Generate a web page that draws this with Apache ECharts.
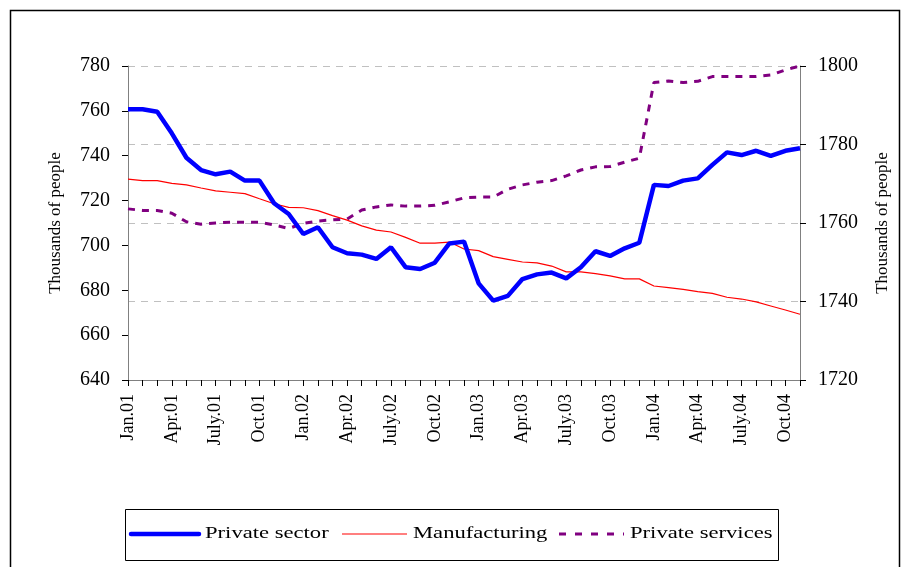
<!DOCTYPE html>
<html>
<head>
<meta charset="utf-8">
<script src="https://cdn.jsdelivr.net/npm/echarts@6/dist/echarts.min.js"></script>
<style>html,body{margin:0;padding:0;background:#fff;}#c{width:905px;height:567px;}</style>
</head>
<body>
<div id="c"></div>
<script>
const months = ['Jan.','Feb.','Mar.','Apr.','May.','June.','July.','Aug.','Sep.','Oct.','Nov.','Dec.'];
const categories = [];
['01','02','03','04'].forEach(y => months.forEach(m => categories.push(m + y)));
categories.length = 47; // Jan.01 .. Nov.04

const leftTicks = { min: 640, max: 780, interval: 20 };
const rightTicks = { min: 1720, max: 1800, interval: 20 };
const seriesNames = ['Private sector', 'Manufacturing', 'Private services'];

const privateSector = [
  760.7, 760.7, 759.6, 750.0, 739.1, 733.6, 731.7, 732.9, 728.9, 728.9, 718.8, 714.0,
  705.1, 708.1, 699.2, 696.5, 695.9, 694.0, 699.2, 690.3, 689.5, 692.3, 700.9, 701.7,
  683.1, 675.4, 677.5, 685.0, 687.1, 687.9, 685.3, 690.3, 697.4, 695.3, 698.7, 701.2,
  727.0, 726.5, 728.9, 729.9, 735.9, 741.5, 740.3, 742.2, 739.9, 742.2, 743.3
];
const manufacturing = [
  729.6, 728.9, 728.9, 727.7, 727.0, 725.6, 724.3, 723.7, 723.1, 720.8, 718.6, 717.0,
  716.8, 715.5, 713.3, 711.3, 708.7, 706.8, 706.0, 703.6, 701.0, 701.0, 701.5, 698.4,
  697.7, 695.0, 693.8, 692.6, 692.2, 690.8, 688.2, 688.2, 687.4, 686.4, 685.1, 685.1,
  681.9, 681.2, 680.4, 679.4, 678.6, 676.9, 676.1, 674.8, 673.0, 671.2, 669.3
];
const privateServices = [
  1763.6, 1763.2, 1763.2, 1762.5, 1760.3, 1759.7, 1760.0, 1760.2, 1760.2, 1760.2, 1759.5, 1758.6,
  1759.9, 1760.5, 1760.8, 1761.0, 1763.3, 1764.1, 1764.6, 1764.3, 1764.3, 1764.5, 1765.4, 1766.4,
  1766.6, 1766.6, 1768.6, 1769.7, 1770.4, 1770.8, 1772.0, 1773.5, 1774.3, 1774.4, 1775.5, 1776.5,
  1795.8, 1796.2, 1795.8, 1796.1, 1797.3, 1797.3, 1797.3, 1797.3, 1797.7, 1799.0, 1800.0
];

const FONT = '"Liberation Serif", "Times New Roman", serif';
const colors = ['#0000ff', '#ff0000', '#800080'];
const lineStyles = [
  { stroke: colors[0], lineWidth: 4.5, lineCap: 'round' },
  { stroke: colors[1], lineWidth: 1.2 },
  { stroke: colors[2], lineWidth: 3, lineDash: [7, 9] }
];

// manual legend (box + samples + text)
const legendX = [131, 342, 559];
const legendLen = [68, 65, 65];
const legendGraphic = [{
  type: 'rect', left: 125, top: 509, shape: { width: 653, height: 51 },
  style: { fill: '#fff', stroke: '#000', lineWidth: 1 }, silent: true
}];
seriesNames.forEach((n, i) => {
  legendGraphic.push({
    type: 'line', shape: { x1: legendX[i], y1: 534, x2: legendX[i] + legendLen[i], y2: 534 },
    style: lineStyles[i], silent: true, z: 10
  });
  legendGraphic.push({
    type: 'text', x: legendX[i] + legendLen[i] + 6, y: 534, scaleX: 1.33,
    style: { text: n, fontFamily: FONT, fontSize: 17, fill: '#000', verticalAlign: 'middle', align: 'left' },
    silent: true, z: 10
  });
});

const chart = echarts.init(document.getElementById('c'), null, { renderer: 'canvas' });
chart.setOption({
  animation: false,
  backgroundColor: '#fff',
  textStyle: { fontFamily: FONT, color: '#000' },
  graphic: [{
    type: 'rect', left: 8, top: 8, shape: { width: 889, height: 575 },
    style: { fill: 'none', stroke: '#000', lineWidth: 1.5 }, silent: true, z: -1
  }].concat(legendGraphic),
  grid: { left: 128, right: 105, top: 66, bottom: 187, containLabel: false },
  xAxis: {
    type: 'category', data: categories, boundaryGap: false,
    axisLine: { lineStyle: { color: '#808080', width: 1 } },
    axisTick: { interval: 0, length: 6, lineStyle: { color: '#000' } },
    axisLabel: { interval: 2, rotate: 90, margin: 14, fontFamily: FONT, fontSize: 18, color: '#000' },
    splitLine: { show: false }
  },
  yAxis: [{
    type: 'value', position: 'left', ...leftTicks,
    name: 'Thousands of people', nameLocation: 'middle', nameGap: 64, nameRotate: 90,
    nameTextStyle: { fontFamily: FONT, fontSize: 17, color: '#000' },
    axisLine: { show: true, lineStyle: { color: '#808080' } },
    axisTick: { show: true, inside: false, length: 6, lineStyle: { color: '#000' } },
    axisLabel: { margin: 18, fontFamily: FONT, fontSize: 20, color: '#000' },
    splitLine: { show: false }
  }, {
    type: 'value', position: 'right', ...rightTicks,
    name: 'Thousands of people', nameLocation: 'middle', nameGap: 74, nameRotate: 90,
    nameTextStyle: { fontFamily: FONT, fontSize: 17, color: '#000' },
    axisLine: { show: true, lineStyle: { color: '#808080' } },
    axisTick: { show: true, inside: false, length: 6, lineStyle: { color: '#000' } },
    axisLabel: { margin: 18, fontFamily: FONT, fontSize: 20, color: '#000', formatter: v => String(v) },
    splitLine: { show: true, lineStyle: { color: '#c0c0c0', type: [7, 6], width: 1 } }
  }],
  series: [{
    name: seriesNames[0], type: 'line', yAxisIndex: 0, data: privateSector,
    symbol: 'none', color: colors[0], lineStyle: { color: colors[0], width: 4.5 }, z: 3
  }, {
    name: seriesNames[1], type: 'line', yAxisIndex: 0, data: manufacturing,
    symbol: 'none', color: colors[1], lineStyle: { color: colors[1], width: 1.2 }, z: 2
  }, {
    name: seriesNames[2], type: 'line', yAxisIndex: 1, data: privateServices,
    symbol: 'none', color: colors[2], lineStyle: { color: colors[2], width: 3, type: [7, 7] }, z: 1
  }]
});
</script>
</body>
</html>
